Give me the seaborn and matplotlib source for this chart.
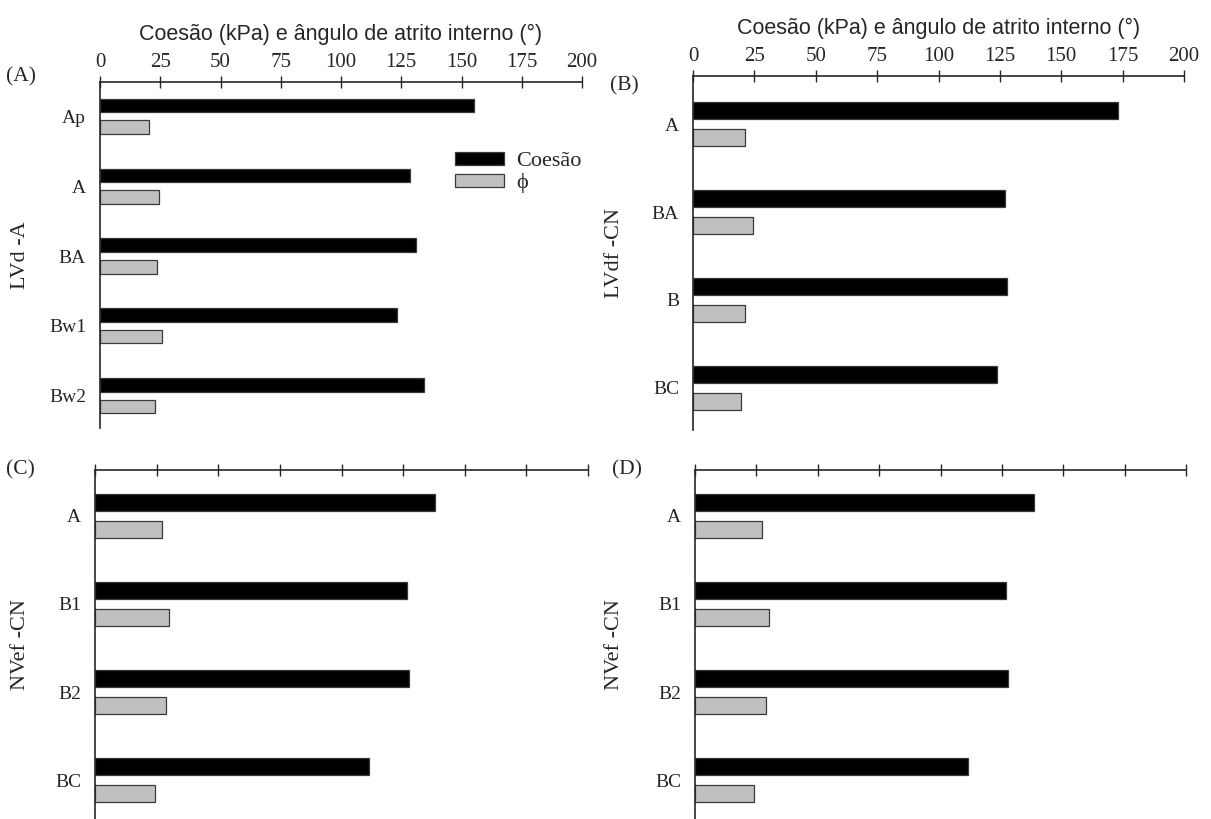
import pandas as pd
import matplotlib.pyplot as plt
import seaborn as sns

# Dados
series = ['Coesão', 'ϕ']

hz_a = ['Ap', 'A', 'BA', 'Bw1', 'Bw2']
coesao_a = [155, 128.6, 131, 123.4, 134.5]
phi_a = [20.3, 24.5, 23.5, 25.7, 22.8]

hz_b = ['A', 'BA', 'B', 'BC']
coesao_b = [173, 127, 128, 124]
phi_b = [21.2, 24.4, 21.2, 19.7]

hz_c = ['A', 'B1', 'B2', 'BC']
coesao_c = [138, 126.7, 127.4, 111.2]
phi_c = [27.0, 30.2, 28.8, 24.2]

hz_d = ['A', 'B1', 'B2', 'BC']
coesao_d = [138, 126.7, 127.3, 111.1]
phi_d = [27.1, 30.3, 28.8, 24.0]

xticks = [0, 25, 50, 75, 100, 125, 150, 175, 200]
titulo = 'Coesão (kPa) e ângulo de atrito interno (°)'

sns.set_style('white')
plt.rcParams['font.family'] = ['Liberation Serif', 'DejaVu Serif']
plt.rcParams['axes.linewidth'] = 1.2

W, H = 1211, 819
fig = plt.figure(figsize=(W / 100, H / 100), dpi=100)
pal = {'Coesão': '#000000', 'ϕ': '#c0c0c0'}
sans = ['Liberation Sans', 'DejaVu Sans']


def make_ax(left, right, top, bottom):
    return fig.add_axes([left / W, 1 - bottom / H, (right - left) / W, (bottom - top) / H])


def painel(ax, cats, coes, phi, ylim, ylabel, labx, top_labels=True, legenda=False):
    n = len(cats)
    df = pd.DataFrame({
        'horizonte': cats * 2,
        'valor': coes + phi,
        'serie': [series[0]] * n + [series[1]] * n,
    })
    sns.barplot(data=df, y='horizonte', x='valor', hue='serie', orient='h',
                hue_order=series, palette=pal, width=0.62, gap=0.38,
                edgecolor='#3a3a3a', linewidth=0.9, errorbar=None, ax=ax,
                legend=legenda)
    ax.set_xlim(0, 200)
    ax.set_ylim(*ylim)
    ax.set_xticks(xticks)
    ax.xaxis.tick_top()
    ax.xaxis.set_label_position('top')
    for s in ['right', 'bottom']:
        ax.spines[s].set_visible(False)
    ax.tick_params(axis='x', direction='inout', length=9, width=1, labelsize=15,
                   pad=3, labeltop=top_labels)
    ax.tick_params(axis='y', direction='out', length=4, width=1, labelsize=14, pad=6)
    ax.set_ylabel(ylabel, fontsize=16)
    ax.yaxis.set_label_coords(labx, 0.5)
    if top_labels:
        ax.set_xlabel(titulo, fontsize=15.5, family=sans, labelpad=9)
    else:
        ax.set_xlabel('')
    if legenda:
        h, l = ax.get_legend_handles_labels()
        ax.legend(h, l, loc='upper left', bbox_to_anchor=(0.713, 0.83), frameon=False,
                  fontsize=16, handlelength=2.2, handleheight=0.5, labelspacing=0.1,
                  handletextpad=0.55, borderpad=0)


ax_a = make_ax(100, 582, 82, 428)
painel(ax_a, hz_a, coesao_a, phi_a, (4.46, -0.49), 'LVd -A', -0.146, legenda=True)

ax_b = make_ax(693, 1184, 76, 430)
painel(ax_b, hz_b, coesao_b, phi_b, (3.48, -0.55), 'LVdf -CN', -0.141)

ax_c = make_ax(95, 588, 470, 819)
painel(ax_c, hz_c, coesao_c, phi_c, (3.44, -0.52), 'NVef -CN', -0.131, top_labels=False)

ax_d = make_ax(695, 1186, 470, 819)
painel(ax_d, hz_d, coesao_d, phi_d, (3.44, -0.52), 'NVef -CN', -0.144, top_labels=False)

# rótulos dos painéis
fig.text(6 / W, 1 - 77 / H, '(A)', fontsize=15.5, va='center')
fig.text(610 / W, 1 - 86 / H, '(B)', fontsize=15.5, va='center')
fig.text(6 / W, 1 - 470 / H, '(C)', fontsize=15.5, va='center')
fig.text(612 / W, 1 - 470 / H, '(D)', fontsize=15.5, va='center')

fig.savefig('out.png', dpi=100)
